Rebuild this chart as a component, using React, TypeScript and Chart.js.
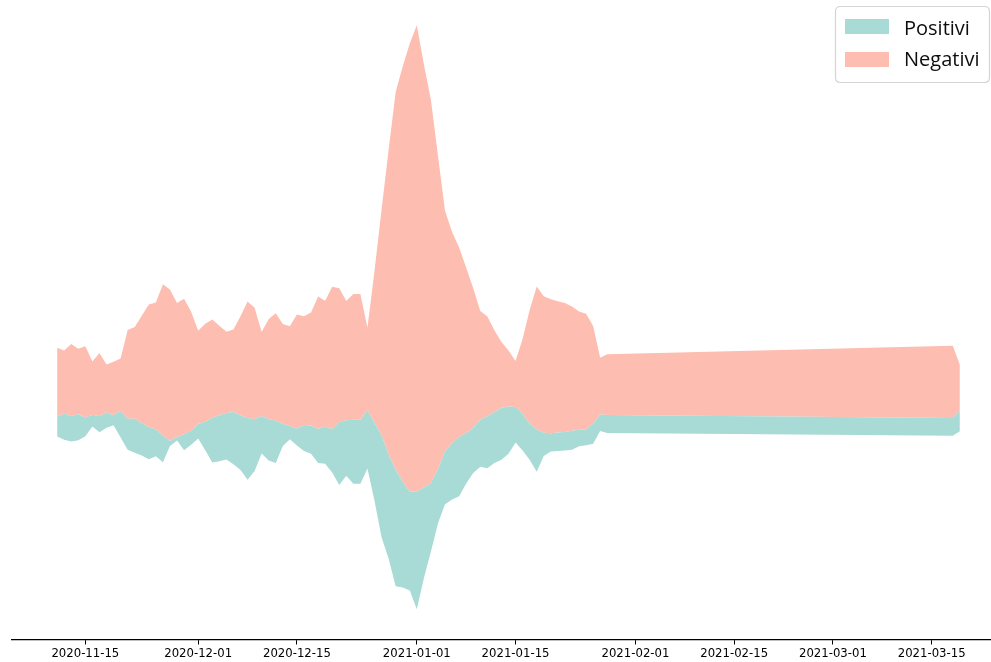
import React, { useEffect, useRef } from "react";
import { Chart, registerables } from "chart.js";

Chart.register(...registerables);

const dates: string[] = [
  "2020-11-11", "2020-11-12", "2020-11-13", "2020-11-14", "2020-11-15", "2020-11-16", "2020-11-17", "2020-11-18", "2020-11-19", "2020-11-20",
  "2020-11-21", "2020-11-22", "2020-11-23", "2020-11-24", "2020-11-25", "2020-11-26", "2020-11-27", "2020-11-28", "2020-11-29", "2020-11-30",
  "2020-12-01", "2020-12-02", "2020-12-03", "2020-12-04", "2020-12-05", "2020-12-06", "2020-12-07", "2020-12-08", "2020-12-09", "2020-12-10",
  "2020-12-11", "2020-12-12", "2020-12-13", "2020-12-14", "2020-12-15", "2020-12-16", "2020-12-17", "2020-12-18", "2020-12-19", "2020-12-20",
  "2020-12-21", "2020-12-22", "2020-12-23", "2020-12-24", "2020-12-25", "2020-12-26", "2020-12-27", "2020-12-28", "2020-12-29", "2020-12-30",
  "2020-12-31", "2021-01-01", "2021-01-02", "2021-01-03", "2021-01-04", "2021-01-05", "2021-01-06", "2021-01-07", "2021-01-08", "2021-01-09",
  "2021-01-10", "2021-01-11", "2021-01-12", "2021-01-13", "2021-01-14", "2021-01-15", "2021-01-16", "2021-01-17", "2021-01-18", "2021-01-19",
  "2021-01-20", "2021-01-21", "2021-01-22", "2021-01-23", "2021-01-24", "2021-01-25", "2021-01-26", "2021-01-27", "2021-01-28",
  "2021-03-18", "2021-03-19",
];

const positivi: number[] = [
  20.0, 26.0, 25.6, 26.0, 18.7, 11.6, 16.0, 15.3, 10.0, 26.7, 31.0, 34.0, 32.4, 32.3, 26.7, 26.6, 5.0, 3.4, 16.0, 14.3,
  14.3, 28.4, 45.0, 46.0, 46.6, 52.4, 54.6, 61.7, 51.7, 37.7, 41.6, 42.4, 22.3, 13.4, 16.7, 26.0, 28.3, 34.0, 37.3, 43.3,
  63.0, 55.5, 64, 64, 58, 78, 102, 104, 117, 106, 99,
  118, 91, 68.5, 54, 53, 56.5, 59.4, 50.4, 45, 47, 52, 51, 52, 47.4, 35.7, 36.7, 36, 42.3, 23.3, 18.3, 18.4, 18.7, 19, 16.6,
  16, 20, 16.6, 18,
  17.7, 20.3,
];

const negativi: number[] = [
  69.0, 63.3, 72.0, 65.7, 71.3, 53.4, 63.3, 48.0, 53.7, 52.3, 89.0, 92.0, 107.6, 122.7, 127.3, 151.7, 151.7, 134.3, 135.6, 119.0,
  93.4, 98.3, 98.3, 89.6, 81.4, 82.6, 99.4, 116.7, 111.7, 84.0, 100.0, 107.6, 100.0, 100.0, 114.3, 109.0, 113.4, 132.7, 126.0, 142.7,
  134.0, 119.5, 126, 126, 83, 152, 226, 305, 378, 416, 449,
  467, 424, 383.5, 314, 241, 211.5, 189.6, 165.6, 140, 109, 100, 82, 66, 56, 46, 75, 114, 143.4, 136.7, 134.3, 131.6, 129, 124.4, 118.4,
  115.7, 98, 56.7, 61,
  72.3, 46.3,
];

const tickDates: string[] = [
  "2020-11-15", "2020-12-01", "2020-12-15", "2021-01-01", "2021-01-15",
  "2021-02-01", "2021-02-15", "2021-03-01", "2021-03-15",
];

const seriesLabels = ["Positivi", "Negativi"];
const colors = ["#a8dad6", "#fdbdb0"];

const ORIGIN = Date.UTC(2020, 10, 15);
function dayOf(s: string): number {
  const [y, m, d] = s.split("-").map(Number);
  return Math.round((Date.UTC(y, m - 1, d) - ORIGIN) / 86400000);
}

const legendPlugin = {
  id: "boxLegend",
  afterDraw(chart: any) {
    const ctx = chart.ctx as CanvasRenderingContext2D;
    ctx.save();
    const x = 835.5, y = 6.5, w = 154, h = 76, r = 5;
    ctx.beginPath();
    ctx.moveTo(x + r, y);
    ctx.lineTo(x + w - r, y);
    ctx.quadraticCurveTo(x + w, y, x + w, y + r);
    ctx.lineTo(x + w, y + h - r);
    ctx.quadraticCurveTo(x + w, y + h, x + w - r, y + h);
    ctx.lineTo(x + r, y + h);
    ctx.quadraticCurveTo(x, y + h, x, y + h - r);
    ctx.lineTo(x, y + r);
    ctx.quadraticCurveTo(x, y, x + r, y);
    ctx.closePath();
    ctx.fillStyle = "rgba(255,255,255,0.85)";
    ctx.fill();
    ctx.strokeStyle = "#d4d4d4";
    ctx.lineWidth = 1.2;
    ctx.stroke();

    const rows = [
      { label: chart.data.datasets[1].label, color: colors[0], py: 19, ty: 34.5 },
      { label: chart.data.datasets[2].label, color: colors[1], py: 52, ty: 66 },
    ];
    ctx.font = '20px "Open Sans"';
    ctx.textBaseline = "alphabetic";
    ctx.textAlign = "left";
    for (const row of rows) {
      ctx.fillStyle = row.color;
      ctx.fillRect(845, row.py, 44, 15);
      ctx.fillStyle = "#0d0d0d";
      ctx.fillText(row.label, 904, row.ty);
    }
    ctx.restore();
  },
};

export default function App() {
  const canvasRef = useRef<HTMLCanvasElement | null>(null);

  useEffect(() => {
    if (!canvasRef.current) return;
    const xs = dates.map(dayOf);
    // matplotlib stackplot "wiggle" baseline for two layers
    const base = positivi.map((p, i) => -(0.75 * p + 0.25 * negativi[i]));
    const mid = base.map((b, i) => b + positivi[i]);
    const top = mid.map((m, i) => m + negativi[i]);
    const tickDays = tickDates.map(dayOf);

    const chart = new Chart(canvasRef.current, {
      type: "line",
      data: {
        datasets: [
          {
            label: "base",
            data: xs.map((x, i) => ({ x, y: base[i] })),
            borderWidth: 0,
            borderColor: "transparent",
            pointRadius: 0,
            fill: false,
          },
          {
            label: seriesLabels[0],
            data: xs.map((x, i) => ({ x, y: mid[i] })),
            borderWidth: 0,
            borderColor: "transparent",
            backgroundColor: colors[0],
            pointRadius: 0,
            fill: "-1",
          },
          {
            label: seriesLabels[1],
            data: xs.map((x, i) => ({ x, y: top[i] })),
            borderWidth: 0,
            borderColor: "transparent",
            backgroundColor: colors[1],
            pointRadius: 0,
            fill: "-1",
          },
        ],
      },
      options: {
        animation: false,
        responsive: false,
        devicePixelRatio: 1,
        layout: { padding: { left: 12, right: 5, top: 0, bottom: 0 } },
        elements: { line: { tension: 0 } },
        plugins: {
          legend: { display: false },
          tooltip: { enabled: false },
        },
        scales: {
          x: {
            type: "linear",
            min: -10.4,
            max: 130.4,
            afterBuildTicks: (scale: any) => {
              scale.ticks = tickDays.map((v) => ({ value: v }));
            },
            afterFit: (scale: any) => {
              scale.height = 22;
            },
            ticks: {
              autoSkip: false,
              maxRotation: 0,
              padding: 2.5,
              color: "#000000",
              font: { family: "DejaVu Sans", size: 11.7 },
              callback: (v: any) => {
                const i = tickDays.indexOf(Number(v));
                return i >= 0 ? tickDates[i] : "";
              },
            },
            grid: {
              display: true,
              drawOnChartArea: false,
              drawTicks: true,
              tickLength: 4.5,
              tickColor: "#000000",
              tickWidth: 1,
            },
            border: { display: true, color: "#000000", width: 1.2 },
          },
          y: {
            display: false,
            min: -236,
            max: 405,
          },
        },
      },
      plugins: [legendPlugin],
    } as any);

    return () => chart.destroy();
  }, []);

  return (
    <div
      style={{
        position: "fixed",
        left: 0,
        top: 0,
        width: 991,
        height: 662,
        overflow: "hidden",
        background: "#ffffff",
      }}
    >
      <canvas ref={canvasRef} width={1010} height={662} style={{ display: "block" }} />
    </div>
  );
}
